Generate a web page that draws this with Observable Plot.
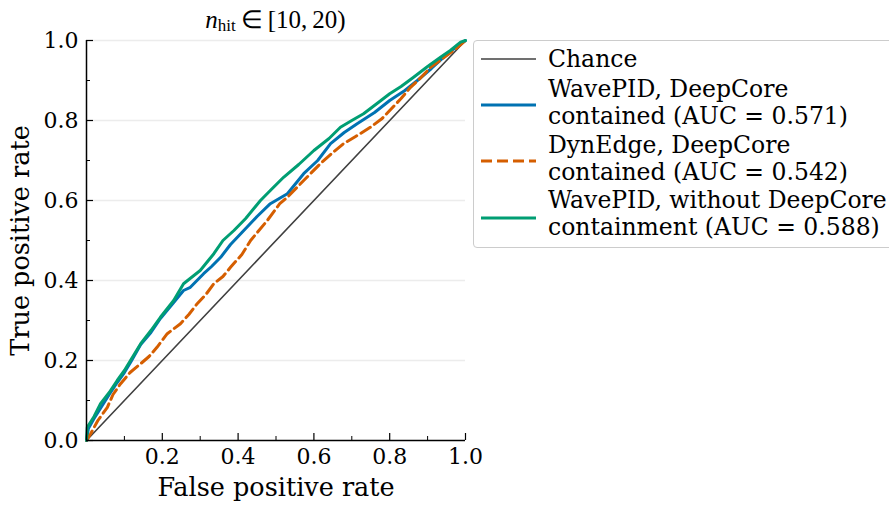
<!DOCTYPE html>
<html>
<head>
<meta charset="utf-8">
<script src="https://cdn.jsdelivr.net/npm/d3@7"></script>
<script src="https://cdn.jsdelivr.net/npm/@observablehq/plot@0.6"></script>
<style>
  html, body { margin: 0; padding: 0; background: #fff; overflow: hidden; }
  #wrap { position: relative; width: 889px; height: 505px; }
  #title { position: absolute; left: 86px; width: 379px; top: 5px; text-align: center; line-height: 29px;
           font-family: "Liberation Serif", serif; font-size: 25px; color: #000; white-space: nowrap; }
  #title sub { font-size: 17px; vertical-align: -3px; line-height: 0; }
  #legend { position: absolute; left: 473px; top: 40px; width: 440px; height: 208px;
            border: 1px solid #cccccc; border-radius: 4px; background: rgba(255,255,255,0.8);
            font-family: "DejaVu Serif", serif; font-size: 23.5px; color: #000; box-sizing: border-box; }
  #legend svg { position: absolute; left: 0; top: 0; }
  .lab { position: absolute; left: 74px; line-height: 26.5px; white-space: nowrap; }
</style>
</head>
<body>
<div id="wrap">
  <div id="chart"></div>
  <div id="title"><i>n</i><sub>hit</sub>&thinsp;∈&thinsp;[10,&thinsp;20)</div>
  <div id="legend"></div>
</div>
<script>
// ---- data ----
const xTicks = [0.2, 0.4, 0.6, 0.8, 1.0];
const yTicks = [0.0, 0.2, 0.4, 0.6, 0.8, 1.0];
const minorTicks = [0.1, 0.3, 0.5, 0.7, 0.9];

const chanceFpr = [0, 1];
const chanceTpr = [0, 1];

const wavepidDcFpr = [0, 0.005, 0.02, 0.04, 0.06, 0.081, 0.1, 0.116, 0.143, 0.17, 0.195, 0.23, 0.256, 0.274, 0.309, 0.33, 0.354, 0.38, 0.415, 0.45, 0.485, 0.53, 0.573, 0.61, 0.644, 0.68, 0.714, 0.76, 0.80, 0.84, 0.873, 0.91, 0.942, 0.97, 1];
const wavepidDcTpr = [0, 0.03, 0.055, 0.085, 0.115, 0.145, 0.17, 0.195, 0.24, 0.27, 0.305, 0.345, 0.375, 0.383, 0.417, 0.435, 0.458, 0.49, 0.525, 0.56, 0.592, 0.617, 0.667, 0.70, 0.742, 0.77, 0.792, 0.82, 0.85, 0.875, 0.90, 0.93, 0.958, 0.98, 1];

const dynedgeDcFpr = [0, 0.011, 0.03, 0.055, 0.07, 0.09, 0.115, 0.143, 0.165, 0.186, 0.213, 0.248, 0.27, 0.292, 0.315, 0.336, 0.36, 0.38, 0.41, 0.433, 0.477, 0.51, 0.53, 0.573, 0.617, 0.65, 0.678, 0.71, 0.749, 0.78, 0.80, 0.83, 0.855, 0.88, 0.908, 0.94, 0.979, 1];
const dynedgeDcTpr = [0, 0.017, 0.05, 0.083, 0.115, 0.142, 0.17, 0.192, 0.21, 0.233, 0.267, 0.292, 0.315, 0.342, 0.365, 0.392, 0.41, 0.433, 0.465, 0.5, 0.55, 0.592, 0.608, 0.65, 0.692, 0.72, 0.742, 0.76, 0.783, 0.805, 0.825, 0.855, 0.883, 0.905, 0.933, 0.955, 0.983, 1];

const wavepidAllFpr = [0, 0.002, 0.02, 0.037, 0.06, 0.081, 0.1, 0.116, 0.143, 0.17, 0.195, 0.23, 0.256, 0.30, 0.336, 0.36, 0.389, 0.42, 0.459, 0.485, 0.52, 0.56, 0.60, 0.64, 0.67, 0.70, 0.731, 0.77, 0.80, 0.83, 0.863, 0.90, 0.934, 0.96, 0.987, 1];
const wavepidAllTpr = [0, 0.033, 0.06, 0.092, 0.12, 0.15, 0.175, 0.2, 0.242, 0.275, 0.308, 0.35, 0.392, 0.425, 0.467, 0.5, 0.525, 0.555, 0.6, 0.625, 0.658, 0.69, 0.725, 0.755, 0.783, 0.80, 0.817, 0.845, 0.867, 0.885, 0.908, 0.935, 0.958, 0.975, 0.996, 1];

const seriesNames = ["Chance", "WavePID, DeepCore\ncontained (AUC = 0.571)", "DynEdge, DeepCore\ncontained (AUC = 0.542)", "WavePID, without DeepCore\ncontainment (AUC = 0.588)"];
const seriesColors = ["#404040", "#0072B2", "#D55E00", "#009E73"];

// ---- build ----
const toPts = (xs, ys) => xs.map((x, i) => ({x, y: ys[i]}));
const W = 889, H = 505, mL = 86, mR = 424, mT = 40, mB = 65;
const plotW = W - mL - mR, plotH = H - mT - mB;

const chart = Plot.plot({
  width: W, height: H,
  marginLeft: mL, marginRight: mR, marginTop: mT, marginBottom: mB,
  x: {domain: [0, 1], axis: null},
  y: {domain: [0, 1], axis: null},
  style: {fontFamily: "DejaVu Serif", fontSize: "22px", color: "#000", background: "transparent"},
  marks: [
    Plot.ruleY(yTicks.filter(d => d > 0), {y: d => d, stroke: "#ececec", strokeWidth: 1.3}),
    Plot.line(toPts(chanceFpr, chanceTpr), {x: "x", y: "y", stroke: seriesColors[0], strokeWidth: 1.6}),
    Plot.line(toPts(wavepidDcFpr, wavepidDcTpr), {x: "x", y: "y", stroke: seriesColors[1], strokeWidth: 3, strokeLinejoin: "round"}),
    Plot.line(toPts(dynedgeDcFpr, dynedgeDcTpr), {x: "x", y: "y", stroke: seriesColors[2], strokeWidth: 3, strokeDasharray: "11,5"}),
    Plot.line(toPts(wavepidAllFpr, wavepidAllTpr), {x: "x", y: "y", stroke: seriesColors[3], strokeWidth: 3, strokeLinejoin: "round"}),
    // spines
    Plot.ruleX([0], {stroke: "#000", strokeWidth: 1.5}),
    Plot.ruleY([0], {stroke: "#000", strokeWidth: 1.5}),
    // inward ticks
    Plot.tickY(yTicks, {y: d => d, insetRight: plotW - 7, stroke: "#000", strokeWidth: 1.2}),
    Plot.tickY(minorTicks, {y: d => d, insetRight: plotW - 4, stroke: "#000", strokeWidth: 1}),
    Plot.tickX(xTicks, {x: d => d, insetTop: plotH - 7, stroke: "#000", strokeWidth: 1.2}),
    Plot.tickX(minorTicks, {x: d => d, insetTop: plotH - 4, stroke: "#000", strokeWidth: 1}),
    // tick labels
    Plot.axisY({ticks: yTicks, tickSize: 0, tickPadding: 8, tickFormat: d3.format(".1f"), label: null, fontSize: 22}),
    Plot.axisX({ticks: xTicks, tickSize: 0, tickPadding: 8, tickFormat: d3.format(".1f"), label: null, fontSize: 22}),
    // axis labels
    Plot.text(["True positive rate"], {frameAnchor: "left", textAnchor: "middle", rotate: -90, dx: -66, fontSize: 25.5, fill: "#000"}),
    Plot.text(["False positive rate"], {frameAnchor: "bottom", dy: 55, fontSize: 25.5, fill: "#000"})
  ]
});
document.getElementById("chart").appendChild(chart);

// ---- legend ----
const legend = document.getElementById("legend");
const labelTops = [5, 35, 91, 146];
const handleYs = [18, 64, 120, 177];
let svg = `<svg width="70" height="206">`;
seriesNames.forEach((name, i) => {
  const dash = i === 2 ? ' stroke-dasharray="11,5"' : "";
  const sw = i === 0 ? 1.6 : 3;
  svg += `<line x1="7" x2="62" y1="${handleYs[i]}" y2="${handleYs[i]}" stroke="${seriesColors[i]}" stroke-width="${sw}"${dash}/>`;
  const lab = document.createElement("div");
  lab.className = "lab";
  lab.style.top = labelTops[i] + "px";
  lab.innerHTML = name.replace("\n", "<br>");
  legend.appendChild(lab);
});
svg += `</svg>`;
legend.insertAdjacentHTML("afterbegin", svg);
</script>
</body>
</html>
